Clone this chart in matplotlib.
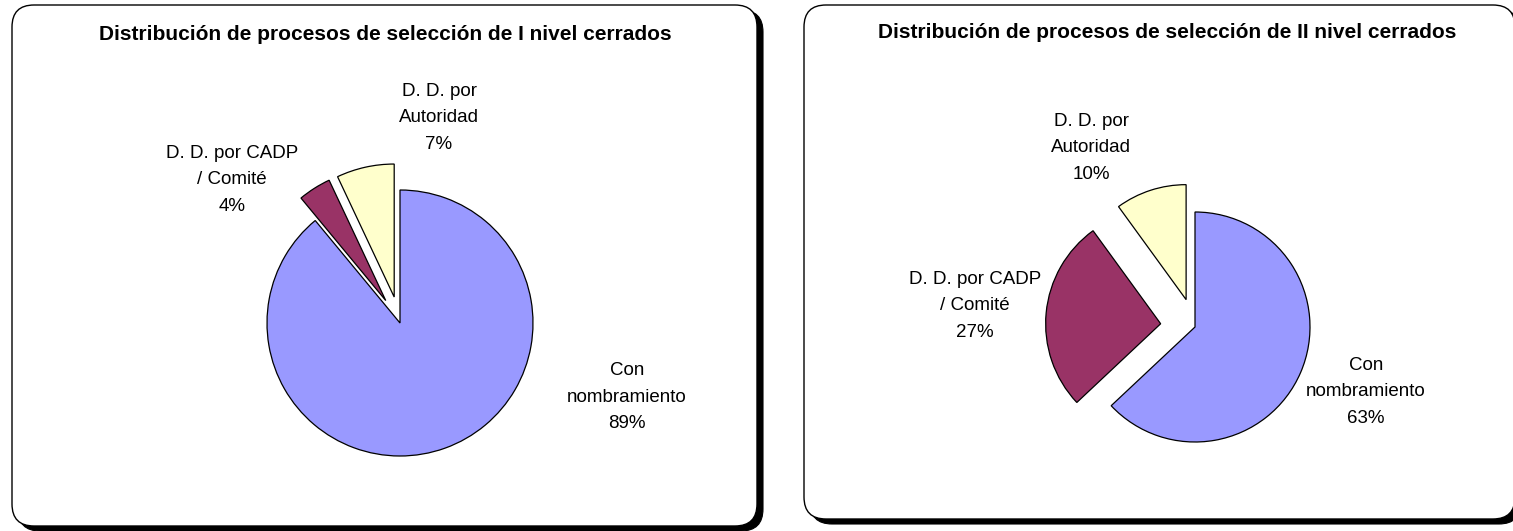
import matplotlib.pyplot as plt
from matplotlib.patches import FancyBboxPatch

# data
categories = ["Con\nnombramiento", "D. D. por CADP\n/ Comité", "D. D. por\nAutoridad"]
values_nivel1 = [89, 4, 7]
values_nivel2 = [63, 27, 10]
titles = ["Distribución de procesos de selección de I nivel cerrados",
          "Distribución de procesos de selección de II nivel cerrados"]
colors = ["#9999FF", "#993366", "#FFFFCC"]

W, H = 1513, 531
plt.rcParams['font.family'] = ['Liberation Sans', 'DejaVu Sans']

fig = plt.figure(figsize=(W / 100, H / 100), dpi=100)
ax = fig.add_axes([0, 0, 1, 1])


def panel(x0, y0, x1, y1):
    # rounded box with a dark shadow offset to bottom-right (pixel coords, y from top)
    r = 22
    shadow = FancyBboxPatch((x0 + 6, H - y1 - 5), x1 - x0, y1 - y0,
                            boxstyle=f"round,pad=0,rounding_size={r}",
                            fc="black", ec="black", lw=0.8, zorder=1)
    box = FancyBboxPatch((x0, H - y1), x1 - x0, y1 - y0,
                         boxstyle=f"round,pad=0,rounding_size={r}",
                         fc="white", ec="black", lw=1.0, zorder=2)
    ax.add_patch(shadow)
    ax.add_patch(box)


panel(12, 5, 757, 526)
panel(804, 5, 1515, 519)

# pie layout: center (px, y from top), radius, explode (fraction of radius), label positions, title pos
pies = [
    dict(vals=values_nivel1, center=(400, 323), r=133, explode=[0, 0.2, 0.2],
         labels=[(627, 397), (232, 180), (439, 118)], title=(385, 35)),
    dict(vals=values_nivel2, center=(1195, 327), r=115, explode=[0, 0.3, 0.25],
         labels=[(1366, 392), (975, 306), (1091, 148)], title=(1167, 33)),
]

for p, title in zip(pies, titles):
    cx, cy = p["center"]
    ax.pie(p["vals"], colors=colors, startangle=90, counterclock=False,
           explode=[e * p["r"] for e in p["explode"]],
           center=(cx, H - cy), radius=p["r"], frame=True,
           wedgeprops=dict(edgecolor="black", linewidth=0.9, zorder=3))
    for cat, v, (lx, ly) in zip(categories, p["vals"], p["labels"]):
        ax.text(lx, H - ly, f"{cat}\n{v}%", ha="center", va="center",
                fontsize=13.5, linespacing=1.7, zorder=5)
    tx, ty = p["title"]
    ax.text(tx, H - ty, title, ha="center", va="center", fontsize=15,
            fontweight="bold", zorder=5)

ax.set_xlim(0, W)
ax.set_ylim(0, H)
ax.set_aspect("auto")
ax.axis("off")

fig.savefig("out.png", dpi=100)
